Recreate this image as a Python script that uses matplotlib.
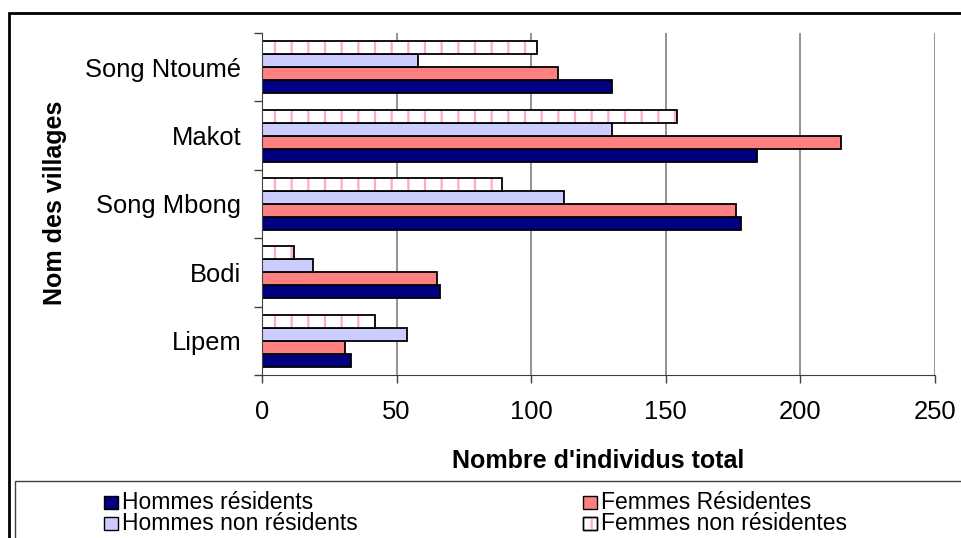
import matplotlib
matplotlib.use("Agg")
import matplotlib.pyplot as plt
import numpy as np
from matplotlib.patches import Rectangle

villages = ["Lipem", "Bodi", "Song Mbong", "Makot", "Song Ntoumé"]
hommes_residents = [33, 66, 178, 184, 130]
femmes_residentes = [31, 65, 176, 215, 110]
hommes_non_residents = [54, 19, 112, 130, 58]
femmes_non_residentes = [42, 12, 89, 154, 102]
xticks = [0, 50, 100, 150, 200, 250]
legend_labels = ["Hommes résidents", "Femmes Résidentes",
                 "Hommes non résidents", "Femmes non résidentes"]

plt.rcParams['font.family'] = ['Liberation Sans', 'DejaVu Sans']
plt.rcParams['hatch.linewidth'] = 1.6

W, H = 961, 538
fig = plt.figure(figsize=(W / 100, H / 100), dpi=100)
ax = fig.add_axes([262 / W, 1 - 375 / H, (935 - 262) / W, (375 - 33) / H])

y = np.arange(len(villages))
bh = 0.19
offs = [-1.5 * bh, -0.5 * bh, 0.5 * bh, 1.5 * bh]
ec = 'black'
lw = 1.3
c_hr, c_fr, c_hnr = '#000080', '#FF8080', '#CCCCFF'
hatch_col = '#FFA6D2'
ax.barh(y + offs[0], hommes_residents, height=bh, color=c_hr, edgecolor=ec, linewidth=lw, zorder=3)
ax.barh(y + offs[1], femmes_residentes, height=bh, color=c_fr, edgecolor=ec, linewidth=lw, zorder=3)
ax.barh(y + offs[2], hommes_non_residents, height=bh, color=c_hnr, edgecolor=ec, linewidth=lw, zorder=3)
ax.barh(y + offs[3], femmes_non_residentes, height=bh, color='white', edgecolor=hatch_col,
        hatch='|', linewidth=0, zorder=3)
ax.barh(y + offs[3], femmes_non_residentes, height=bh, fill=False, edgecolor=ec, linewidth=lw, zorder=4)

ax.set_xlim(0, 250)
ax.set_ylim(-0.5, len(villages) - 0.5)
ax.set_xticks(xticks)
ax.set_xticklabels([str(v) for v in xticks], fontsize=18.4)
ax.set_yticks(y)
ax.set_yticklabels(villages, fontsize=18.4)
ax.set_yticks(np.arange(-0.5, len(villages), 1), minor=True)
ax.tick_params(axis='y', which='major', length=0, pad=15)
ax.tick_params(axis='y', which='minor', length=6, width=1, color='#404040')
ax.tick_params(axis='x', which='major', length=6, width=1, color='#404040', pad=12)
ax.grid(axis='x', color='#808080', linewidth=1.2, zorder=0)
for s in ['top', 'right']:
    ax.spines[s].set_visible(False)
ax.spines['left'].set_color('#404040')
ax.spines['bottom'].set_color('#404040')
ax.spines['left'].set_zorder(5)

fig.text(598 / W, 1 - 468 / H, "Nombre d'individus total", ha='center', va='baseline',
         fontsize=18, fontweight='bold')
fig.text(55 / W, 1 - 203 / H, "Nom des villages", ha='center', va='center',
         fontsize=18, fontweight='bold', rotation=90)

# outer border and legend box
fig.patches.append(Rectangle((9 / W, -0.1), 1.2, 1 - 13 / H + 0.1, transform=fig.transFigure,
                             fill=False, edgecolor='black', linewidth=2))
fig.patches.append(Rectangle((15 / W, -0.1), 1.2, 1 - 481 / H + 0.1, transform=fig.transFigure,
                             fill=False, edgecolor='#404040', linewidth=1))

# legend entries (2 columns x 2 rows)
colors = [c_hr, c_fr, c_hnr, 'white']
col_x = [104, 583]
row_y = [502, 523]
mw, mh = 14, 13
for i, (lab, col) in enumerate(zip(legend_labels, colors)):
    cx = col_x[i % 2]
    cy = row_y[i // 2]
    rect = Rectangle((cx / W, 1 - (cy + mh / 2) / H), mw / W, mh / H, transform=fig.transFigure,
                     facecolor=col, edgecolor='black', linewidth=1)
    fig.patches.append(rect)
    if col == 'white':
        fig.patches.append(Rectangle((cx / W, 1 - (cy + mh / 2) / H), mw / W, mh / H,
                                     transform=fig.transFigure, facecolor='none',
                                     edgecolor=hatch_col, hatch='|', linewidth=0))
        fig.patches.append(Rectangle((cx / W, 1 - (cy + mh / 2) / H), mw / W, mh / H,
                                     transform=fig.transFigure, fill=False,
                                     edgecolor='black', linewidth=1))
    fig.text((cx + mw + 4) / W, 1 - (cy + 7) / H, lab, ha='left', va='baseline', fontsize=16.5)

fig.savefig('out.png', dpi=100)
